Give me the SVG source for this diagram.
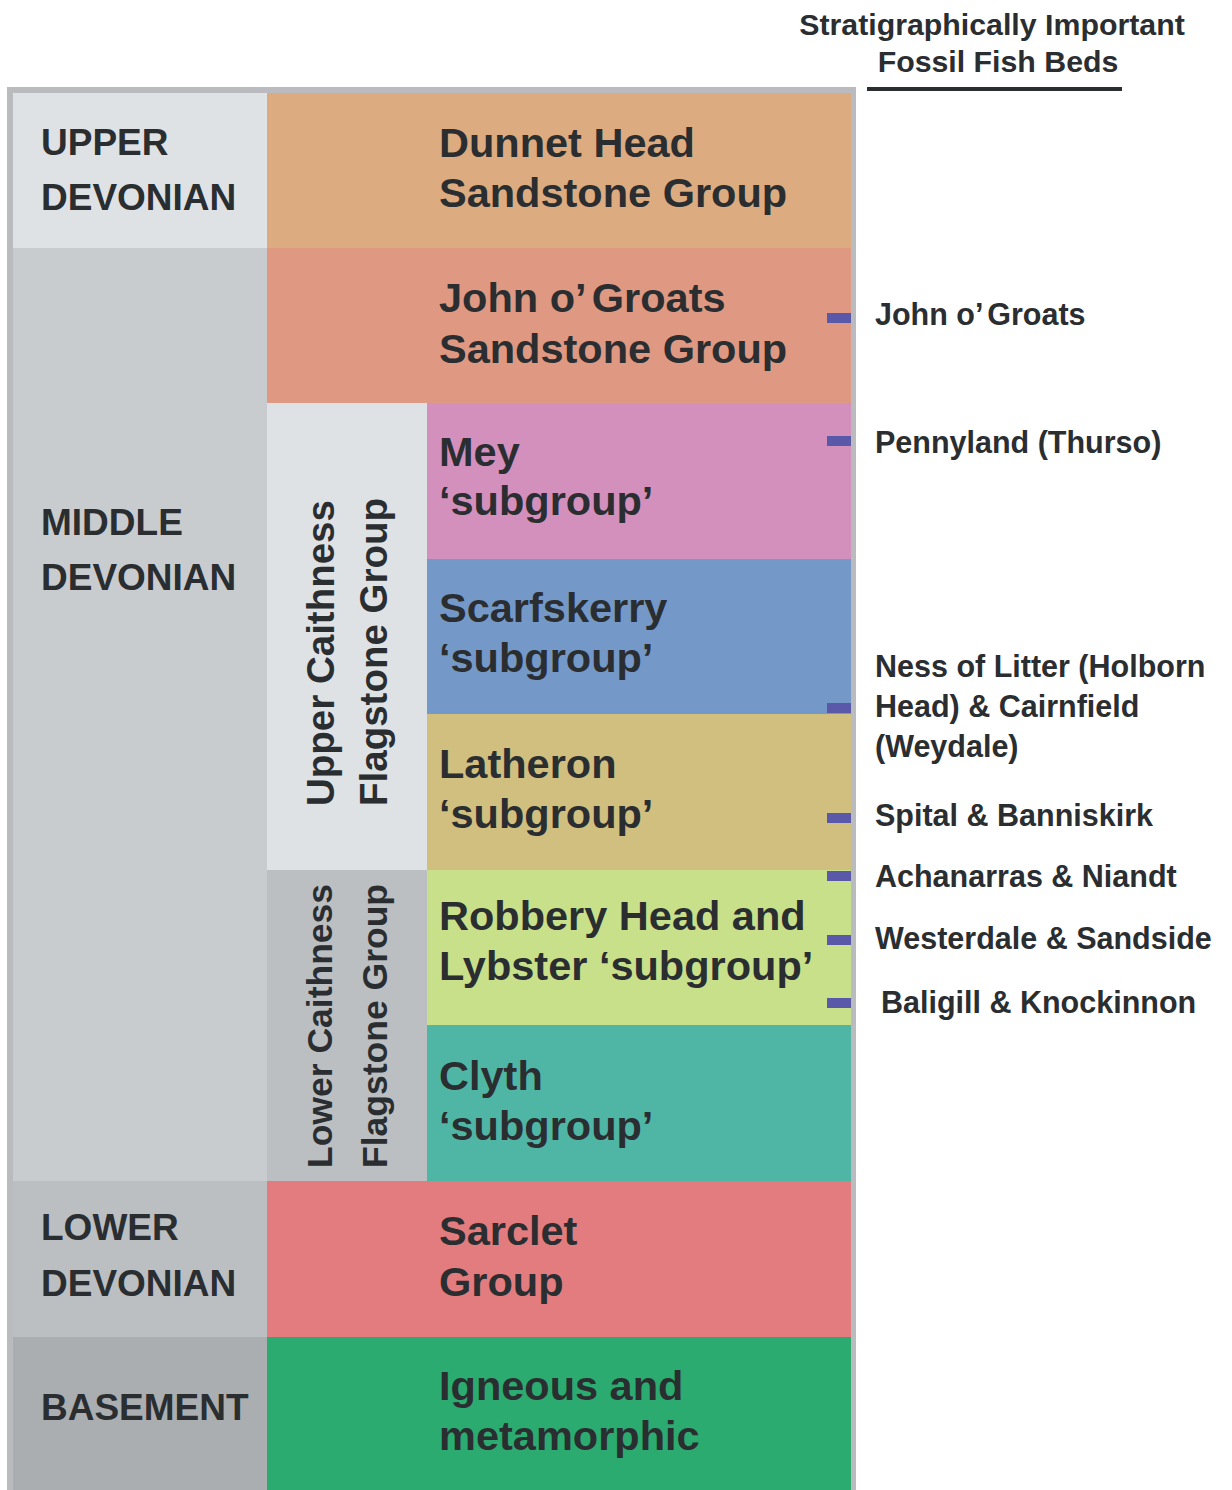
<svg xmlns="http://www.w3.org/2000/svg" width="1232" height="1490" viewBox="0 0 1232 1490">
<style>
text{font-family:"Liberation Sans",Arial,Helvetica,sans-serif;font-weight:bold;fill:#2b2e31}
.main{font-size:41.5px}
.era{font-size:37px}
.rot{font-size:38.5px}
.rot2{font-size:35.5px}
.bed{font-size:30.5px}
.title{font-size:30.3px;text-anchor:middle}
.mk{fill:#5a58a8}
</style>
<rect width="1232" height="1490" fill="#ffffff"/>
<g id="title">
<text class="title" x="992" y="35">Stratigraphically Important</text>
<text class="title" x="998" y="72">Fossil Fish Beds</text>
<rect x="867" y="87" width="255" height="4" fill="#2b2e31"/>
</g>
<rect id="frame" x="7" y="87" width="849" height="1410" fill="#b9bbbe"/>
<g id="upper-devonian"><rect x="13" y="93" width="254" height="155" fill="#dfe2e5"/><text class="era" x="41" y="155">UPPER</text><text class="era" x="41" y="210">DEVONIAN</text></g>
<g id="middle-devonian"><rect x="13" y="248" width="254" height="933" fill="#c9ccce"/><text class="era" x="41" y="535">MIDDLE</text><text class="era" x="41" y="590">DEVONIAN</text></g>
<g id="lower-devonian"><rect x="13" y="1181" width="254" height="156" fill="#bcbfc2"/><text class="era" x="41" y="1240">LOWER</text><text class="era" x="41" y="1296">DEVONIAN</text></g>
<g id="basement-era"><rect x="13" y="1337" width="254" height="160" fill="#abaeb1"/><text class="era" x="41" y="1420">BASEMENT</text></g>
<g id="upper-caithness"><rect x="267" y="403" width="160" height="467" fill="#dfe2e5"/>
<text class="rot" transform="translate(334,806) rotate(-90)">Upper Caithness</text>
<text class="rot" transform="translate(387,806) rotate(-90)">Flagstone Group</text></g>
<g id="lower-caithness"><rect x="267" y="870" width="160" height="311" fill="#bcbfc2"/>
<text class="rot2" transform="translate(332,1168) rotate(-90)">Lower Caithness</text>
<text class="rot2" transform="translate(387,1168) rotate(-90)">Flagstone Group</text></g>
<g id="dunnet-head"><rect x="267" y="93" width="584" height="155" fill="#dcab80"/><text class="main" x="439" y="157">Dunnet Head</text><text class="main" x="439" y="207">Sandstone Group</text></g>
<g id="john-o-groats"><rect x="267" y="248" width="584" height="155" fill="#df9882"/><text class="main" x="439" y="312">John o’ <tspan dx="-4">Groats</tspan></text><text class="main" x="439" y="363">Sandstone Group</text></g>
<g id="mey"><rect x="427" y="403" width="424" height="156" fill="#d490bd"/><text class="main" x="439" y="466">Mey</text><text class="main" x="439" y="515">‘subgroup’</text></g>
<g id="scarfskerry"><rect x="427" y="559" width="424" height="155" fill="#7499c9"/><text class="main" x="439" y="622">Scarfskerry</text><text class="main" x="439" y="672">‘subgroup’</text></g>
<g id="latheron"><rect x="427" y="714" width="424" height="156" fill="#d0bf7f"/><text class="main" x="439" y="778">Latheron</text><text class="main" x="439" y="828">‘subgroup’</text></g>
<g id="robbery-head"><rect x="427" y="870" width="424" height="155" fill="#c8e08a"/><text class="main" x="439" y="930">Robbery Head and</text><text class="main" x="439" y="980">Lybster ‘subgroup’</text></g>
<g id="clyth"><rect x="427" y="1025" width="424" height="156" fill="#4fb6a6"/><text class="main" x="439" y="1090">Clyth</text><text class="main" x="439" y="1140">‘subgroup’</text></g>
<g id="sarclet"><rect x="267" y="1181" width="584" height="156" fill="#e27c7e"/><text class="main" x="439" y="1245">Sarclet</text><text class="main" x="439" y="1296">Group</text></g>
<g id="basement"><rect x="267" y="1337" width="584" height="160" fill="#2bab6f"/><text class="main" x="439" y="1400">Igneous and</text><text class="main" x="439" y="1450">metamorphic</text></g>
<g id="connectors">
<rect class="mk" x="827" y="313" width="24" height="10"/>
<rect class="mk" x="827" y="436" width="24" height="10"/>
<rect class="mk" x="827" y="703" width="24" height="10"/>
<rect class="mk" x="827" y="813" width="24" height="10"/>
<rect class="mk" x="827" y="871" width="24" height="10"/>
<rect class="mk" x="827" y="935" width="24" height="10"/>
<rect class="mk" x="827" y="998" width="24" height="10"/>
</g>
<g id="fossil-beds">
<text class="bed" x="875" y="325">John o’ <tspan dx="-3">Groats</tspan></text>
<text class="bed" x="875" y="453">Pennyland (Thurso)</text>
<text class="bed" x="875" y="677">Ness of Litter (Holborn</text>
<text class="bed" x="875" y="717">Head) &amp; Cairnfield</text>
<text class="bed" x="875" y="757">(Weydale)</text>
<text class="bed" x="875" y="826">Spital &amp; Banniskirk</text>
<text class="bed" x="875" y="887">Achanarras &amp; Niandt</text>
<text class="bed" x="875" y="949">Westerdale &amp; Sandside</text>
<text class="bed" x="881" y="1013">Baligill &amp; Knockinnon</text>
</g>
</svg>
